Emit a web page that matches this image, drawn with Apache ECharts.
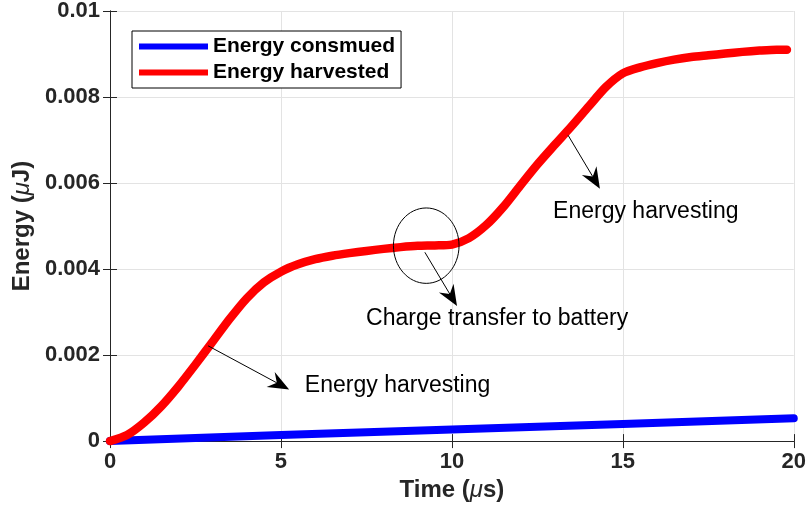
<!DOCTYPE html>
<html>
<head>
<meta charset="utf-8">
<script src="https://cdn.jsdelivr.net/npm/echarts@6/dist/echarts.min.js"></script>
<style>
  html, body { margin: 0; padding: 0; background: #fff; }
  #chart { width: 809px; height: 507px; }
</style>
</head>
<body>
<div id="chart"></div>
<script>
// Time axis (µs) and energy (µJ) samples
const timeHarvested = [0, 0.5, 1.0, 1.5, 2.0, 2.5, 3.0, 3.5, 4.0, 4.5, 5.0, 5.5, 6.0, 6.5, 7.0, 7.5, 8.0, 8.5, 9.0, 9.5, 10.0, 10.5, 11.0, 11.5, 12.0, 12.5, 13.0, 13.5, 14.0, 14.5, 15.0, 15.5, 16.0, 16.5, 17.0, 17.5, 18.0, 18.5, 19.0, 19.5, 19.8];
const energyHarvested = [0, 0.00014, 0.00043, 0.00081, 0.00127, 0.00178, 0.00231, 0.00284, 0.00332, 0.00369, 0.00394, 0.00411, 0.00423, 0.00431, 0.00437, 0.00442, 0.00447, 0.00451, 0.00454, 0.00455, 0.00457, 0.00472, 0.00502, 0.00544, 0.00594, 0.00643, 0.00688, 0.00732, 0.00778, 0.00823, 0.00855, 0.00869, 0.00879, 0.00887, 0.00893, 0.00897, 0.00901, 0.00905, 0.00908, 0.00910, 0.00910];
const timeConsumed = [0, 5, 10, 15, 20];
const energyConsumed = [0, 0.00014, 0.00027, 0.0004, 0.00053];

const xTicks = [0, 5, 10, 15, 20];
const yTicks = [0, 0.002, 0.004, 0.006, 0.008, 0.01];

const seriesNames = ['Energy consmued', 'Energy harvested'];

// Callouts: arrow from a point on the curve to a label, in data units
const callouts = [
  { from: [2.87, 0.002215], to: [5.24, 0.00120], text: 'Energy harvesting', at: [5.70, 0.00130] },
  { from: [9.21, 0.00439], to: [10.15, 0.00314], text: 'Charge transfer to battery', at: [7.49, 0.002847] },
  { from: [13.40, 0.00711], to: [14.33, 0.00587], text: 'Energy harvesting', at: [12.96, 0.005324] }
];
const ringCenter = [9.25, 0.004544];

const axisColor = '#262626';
const font = '"Liberation Sans", Arial, Helvetica, sans-serif';

const zip = (xs, ys) => xs.map((x, i) => [x, ys[i]]);

const chart = echarts.init(document.getElementById('chart'), null, { renderer: 'canvas' });

const frameAxis = {
  min: 0,
  axisLine: { show: true, lineStyle: { color: axisColor, width: 1 } },
  axisTick: { show: true, inside: true, length: 7, lineStyle: { color: axisColor } },
  axisLabel: { show: false },
  splitLine: { show: false }
};

const nameStyle = {
  fontFamily: font, fontWeight: 'bold', fontSize: 24, color: axisColor,
  rich: { i: { fontFamily: font, fontStyle: 'italic', fontWeight: 'normal', fontSize: 24, color: axisColor } }
};

chart.setOption({
  animation: false,
  backgroundColor: '#fff',
  grid: { left: 110, right: 15, top: 11, bottom: 64, containLabel: false },
  legend: {
    data: seriesNames,
    orient: 'vertical',
    left: 132,
    top: 31,
    padding: [5, 6, 5, 7],
    itemGap: 5,
    itemWidth: 69,
    itemHeight: 6,
    icon: 'rect',
    borderColor: '#000',
    borderWidth: 1,
    backgroundColor: '#fff',
    textStyle: { fontFamily: font, fontWeight: 'bold', fontSize: 21, color: '#000', lineHeight: 21 }
  },
  xAxis: [
    {
      type: 'value', min: 0, max: 20, interval: 5,
      name: 'Time ({i|μ}s)',
      nameLocation: 'middle',
      nameGap: 35,
      nameTextStyle: nameStyle,
      axisLine: { show: true, onZero: false, lineStyle: { color: axisColor, width: 1 } },
      axisTick: { show: true, inside: true, length: 7, lineStyle: { color: axisColor } },
      axisLabel: {
        margin: 10, fontFamily: font, fontWeight: 'bold', fontSize: 22, color: axisColor,
        formatter: v => xTicks.includes(v) ? String(v) : ''
      },
      splitLine: { show: true, lineStyle: { color: '#e3e3e3', width: 1 } }
    },
    Object.assign({}, frameAxis, { type: 'value', position: 'top', max: 20, interval: 5 })
  ],
  yAxis: [
    {
      type: 'value', min: 0, max: 0.01, interval: 0.002,
      name: 'Energy ({i|μ}J)',
      nameLocation: 'middle',
      nameGap: 76,
      nameTextStyle: nameStyle,
      axisLine: { show: true, onZero: false, lineStyle: { color: axisColor, width: 1 } },
      axisTick: { show: true, inside: true, length: 7, lineStyle: { color: axisColor } },
      axisLabel: {
        margin: 10, fontFamily: font, fontWeight: 'bold', fontSize: 22, color: axisColor,
        formatter: v => {
          const t = yTicks.find(y => Math.abs(y - v) < 1e-9);
          return t === undefined ? '' : String(+t.toFixed(3));
        }
      },
      splitLine: { show: true, lineStyle: { color: '#e3e3e3', width: 1 } }
    },
    Object.assign({}, frameAxis, { type: 'value', position: 'right', max: 0.01, interval: 0.002 })
  ],
  series: [
    {
      name: seriesNames[0],
      type: 'line',
      data: zip(timeConsumed, energyConsumed),
      showSymbol: false,
      clip: false,
      color: '#0000ff',
      lineStyle: { color: '#0000ff', width: 8, cap: 'round' },
      z: 3
    },
    {
      name: seriesNames[1],
      type: 'line',
      data: zip(timeHarvested, energyHarvested),
      showSymbol: false,
      smooth: 0.25,
      clip: false,
      color: '#ff0000',
      lineStyle: { color: '#ff0000', width: 8.5, cap: 'round', join: 'round' },
      z: 4
    }
  ]
});

// Callout arrows, labels and the ring around the flat segment
function arrowHead(tip, tail) {
  const dx = tip[0] - tail[0], dy = tip[1] - tail[1];
  const len = Math.hypot(dx, dy);
  const ux = dx / len, uy = dy / len;
  const px = -uy, py = ux;
  const L = 21, W = 8.5, notch = 14;
  return [
    tip,
    [tip[0] - ux * L + px * W, tip[1] - uy * L + py * W],
    [tip[0] - ux * notch, tip[1] - uy * notch],
    [tip[0] - ux * L - px * W, tip[1] - uy * L - py * W]
  ];
}

const toPx = p => chart.convertToPixel({ xAxisIndex: 0, yAxisIndex: 0 }, p);
const elements = [];
callouts.forEach(c => {
  const a = toPx(c.from), b = toPx(c.to);
  const head = arrowHead(b, a);
  elements.push({
    type: 'line', silent: true, z: 10,
    shape: { x1: a[0], y1: a[1], x2: head[2][0], y2: head[2][1] },
    style: { stroke: '#000', lineWidth: 1 }
  });
  elements.push({
    type: 'polygon', silent: true, z: 10,
    shape: { points: head },
    style: { fill: '#000' }
  });
  const t = toPx(c.at);
  elements.push({
    type: 'text', silent: true, z: 10, x: t[0], y: t[1],
    style: { text: c.text, fill: '#000', font: '23px ' + font, verticalAlign: 'middle', align: 'left' }
  });
});
const rc = toPx(ringCenter);
elements.push({
  type: 'ellipse', silent: true, z: 10,
  shape: { cx: rc[0], cy: rc[1], rx: 32.8, ry: 37.7 },
  style: { fill: 'none', stroke: '#000', lineWidth: 1 }
});
chart.setOption({ graphic: elements });
</script>
</body>
</html>
